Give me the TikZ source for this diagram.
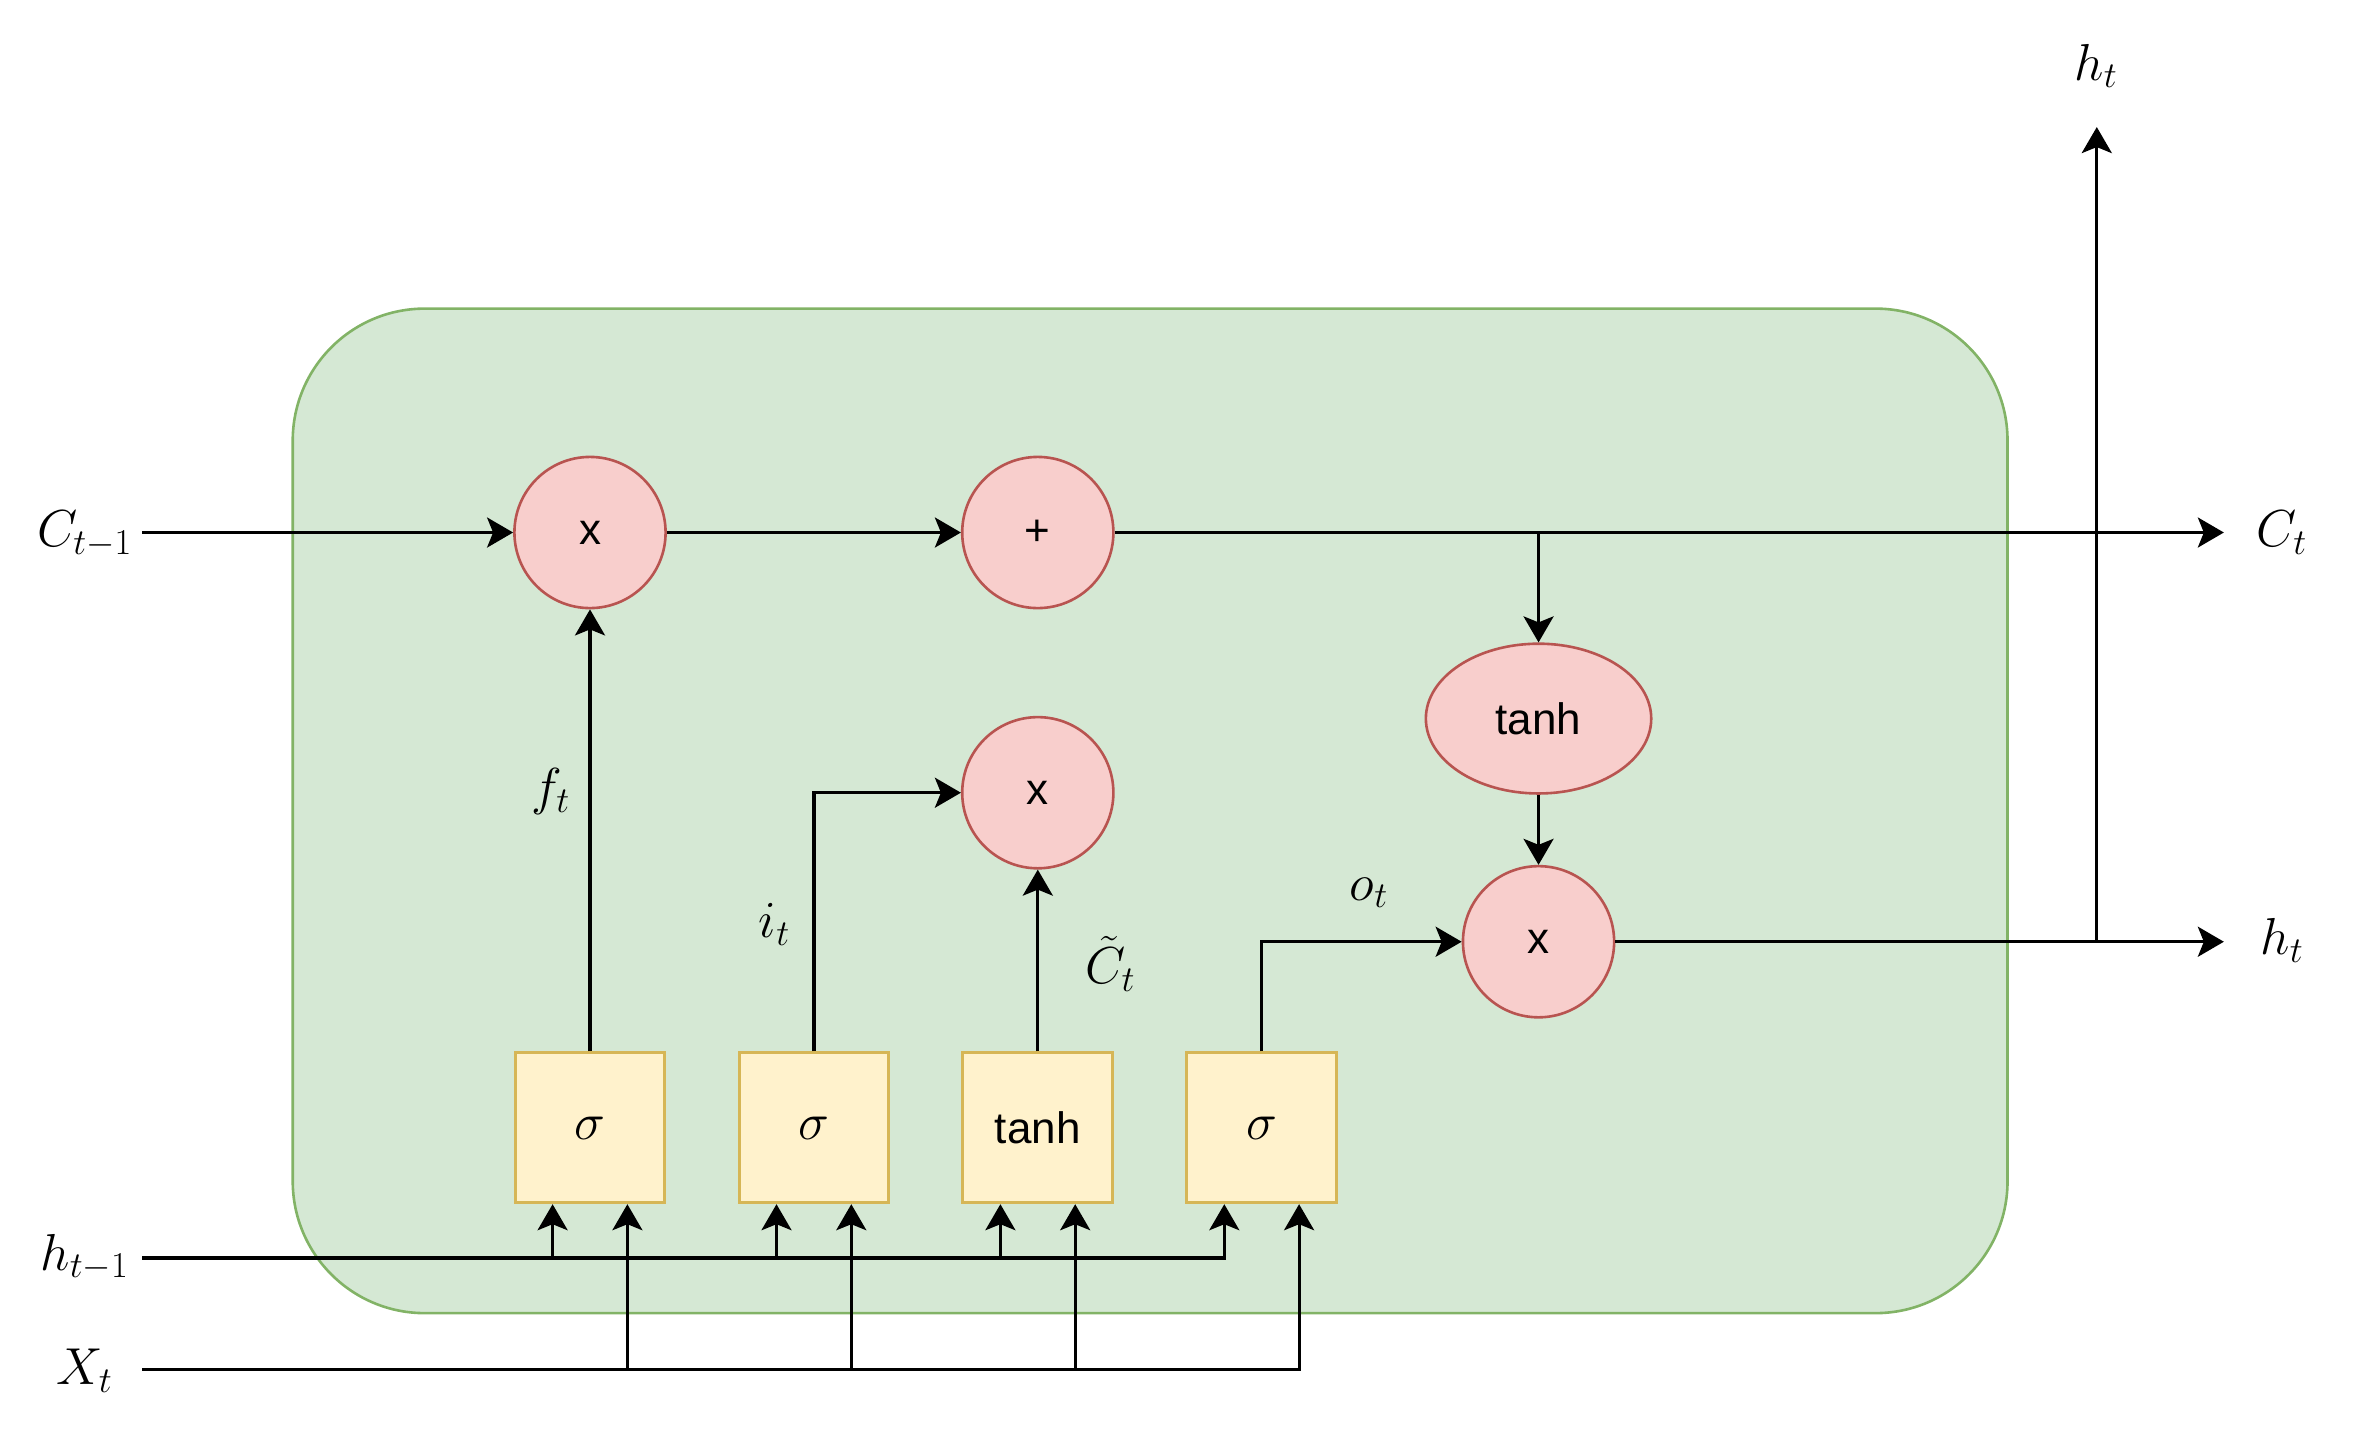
\RequirePackage{fix-cm}
\documentclass[tikz,border=0pt]{standalone}
\usepackage{fontspec}
\newfontfamily\dsans{Liberation Sans}
\usetikzlibrary{arrows.meta,shapes.geometric}
\definecolor{gfill}{HTML}{D5E8D4}
\definecolor{gstroke}{HTML}{82B366}
\definecolor{rfill}{HTML}{F8CECC}
\definecolor{rstroke}{HTML}{B85450}
\definecolor{yfill}{HTML}{FFF2CC}
\definecolor{ystroke}{HTML}{D6B656}
\tikzset{
  arr/.style={-{Stealth[length=13pt,width=15pt,inset=3pt]}, line width=1.6pt, black},
  op/.style={circle, draw=rstroke, fill=rfill, line width=1.3pt, minimum size=75.6pt, inner sep=0pt, font=\dsans\fontsize{22}{26}\selectfont},
  opell/.style={ellipse, draw=rstroke, fill=rfill, line width=1.3pt, minimum width=112.7pt, minimum height=74.9pt, inner sep=0pt, font=\dsans\fontsize{22}{26}\selectfont},
  gate/.style={rectangle, draw=ystroke, fill=yfill, line width=1.5pt, minimum width=74.9pt, minimum height=74.9pt, inner sep=0pt, font=\fontsize{26}{30}\selectfont},
  lbl/.style={inner sep=0pt, anchor=base, font=\fontsize{26}{30}\selectfont},
}
\begin{document}
\begin{tikzpicture}[x=0.7565pt, y=-0.7565pt]
\useasboundingbox (0,0) rectangle (1560,945.2);
% cell background
\draw[draw=gstroke, fill=gfill, line width=1.3pt, rounded corners=66pt] (193.5,204) rectangle (1327,868);
% operators
\node[op] (m1) at (390,352) {x};
\node[op] (pl) at (686,352) {+};
\node[op] (m2) at (686,524) {x};
\node[opell] (th) at (1017,475) {tanh};
\node[op] (m3) at (1017,622.5) {x};
% gates
\node[gate] (b1) at (390,745.5) {$\sigma$};
\node[gate] (b2) at (538,745.5) {$\sigma$};
\node[gate, font=\dsans\fontsize{22}{26}\selectfont] (b3) at (686,745.5) {tanh};
\node[gate] (b4) at (834,745.5) {$\sigma$};
% labels
\node[lbl] (lCin) at (56,361.5) {$C_{t-1}$};
\node[lbl] (lhin) at (56,839.5) {$h_{t-1}$};
\node[lbl] (lxin) at (56,915.4) {$X_t$};
\node[lbl] (lCt) at (1508.5,361.5) {$C_t$};
\node[lbl] (lht) at (1508.5,631) {$h_t$};
\node[lbl] (lhtop) at (1385.5,53) {$h_t$};
\node[lbl] (lf) at (364,532) {$f_t$};
\node[lbl] (li) at (512,620) {$i_t$};
\node[lbl] (lo) at (905,595) {$o_t$};
\node[lbl] (lct) at (734,650) {$\tilde{C}_t$};
% coordinates
\coordinate (cs) at (94,352);
\coordinate (ce) at (1470,352);
\coordinate (he) at (1470,622.5);
\coordinate (hu) at (1386,84);
\coordinate (hs) at (94,831.5);
\coordinate (xs) at (94,905);
\foreach \i in {1,2,3,4}{
  \coordinate (b\i h) at ([xshift=-18.7pt]b\i.south);
  \coordinate (b\i x) at ([xshift=18.7pt]b\i.south);
}
% cell state path
\draw[arr] (cs) -- (m1);
\draw[arr] (m1) -- (pl);
\draw[arr] (pl) -- (ce);
\draw[arr] (th.north |- pl) -- (th.north);
\draw[arr] (th) -- (m3);
\draw[arr] (m3) -- (he);
\draw[arr] (m3.east -| hu) -- (hu);
% gate outputs
\draw[arr] (b1) -- (m1);
\draw[arr] (b2.north) |- (m2.west);
\draw[arr] (b3) -- (m2);
\draw[arr] (b4.north) |- (m3.west);
% inputs
\draw[arr] (hs) -| (b4h);
\draw[arr] (xs) -| (b4x);
\foreach \i in {1,2,3}{
  \draw[arr] (b\i h |- hs) -- (b\i h);
  \draw[arr] (b\i x |- xs) -- (b\i x);
}
\end{tikzpicture}
\end{document}
